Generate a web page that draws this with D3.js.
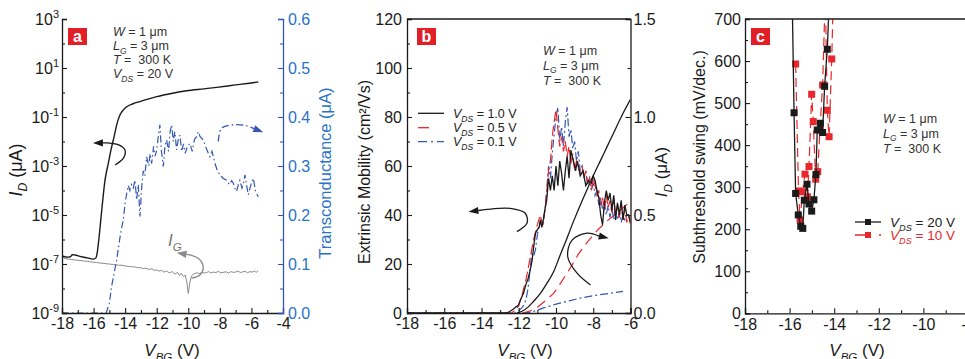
<!DOCTYPE html>
<html><head><meta charset="utf-8">
<script src="https://cdn.jsdelivr.net/npm/d3@7"></script>
<style>body{margin:0;background:#fff} svg{display:block} text{font-family:"Liberation Sans",Arial,sans-serif}</style>
</head><body><svg id="c" width="965" height="359"></svg>
<script>
// ---------------- DATA ----------------
// Panel a: drain current I_D (log10 of uA) vs V_BG
const aID = [[-18,-6.67],[-17.6,-6.72],[-17.45,-6.7],[-17.35,-6.62],[-17.2,-6.63],[-16.8,-6.7],[-16.4,-6.75],[-16.0,-6.8],[-15.85,-6.75],[-15.75,-6.45],[-15.65,-5.9],[-15.55,-5.25],[-15.45,-4.6],[-15.28,-3.6],[-15.07,-2.9],[-14.9,-2.35],[-14.7,-1.8],[-14.54,-1.33],[-14.33,-0.92],[-14.1,-0.7],[-13.9,-0.58],[-13.5,-0.46],[-13.06,-0.37],[-12.5,-0.26],[-12.0,-0.17],[-11.0,-0.03],[-10.1,0.07],[-9.0,0.15],[-8.2,0.21],[-7.0,0.31],[-6.0,0.39],[-5.57,0.43]];
// Panel a: gate current I_G (log10 of uA)
const aIG = [[-18,-6.72],[-17.8,-6.78],[-17.6,-6.8],[-17.4,-6.82],[-17.2,-6.83],[-17.0,-6.85],[-16.8,-6.86],[-16.6,-6.88],[-16.4,-6.89],[-16.2,-6.91],[-16.0,-6.93],[-15.8,-6.94],[-15.6,-6.96],[-15.4,-6.97],[-15.2,-6.99],[-15.0,-7.0],[-14.8,-7.02],[-14.6,-7.03],[-14.4,-7.05],[-14.2,-7.05],[-14.0,-7.08],[-13.8,-7.1],[-13.6,-7.11],[-13.4,-7.12],[-13.2,-7.15],[-13.0,-7.15],[-12.85,-7.19],[-12.7,-7.17],[-12.5,-7.22],[-12.3,-7.2],[-12.15,-7.26],[-12.0,-7.24],[-11.85,-7.29],[-11.7,-7.26],[-11.55,-7.33],[-11.4,-7.28],[-11.2,-7.36],[-11.0,-7.31],[-10.85,-7.42],[-10.7,-7.34],[-10.55,-7.47],[-10.45,-7.38],[-10.3,-7.52],[-10.2,-7.45],[-10.1,-7.7],[-10.0,-8.2],[-9.9,-7.75],[-9.8,-7.5],[-9.7,-7.42],[-9.55,-7.38],[-9.4,-7.36],[-9.3,-7.4],[-9.15,-7.34],[-9.0,-7.37],[-8.85,-7.35],[-8.7,-7.31],[-8.6,-7.36],[-8.4,-7.33],[-8.25,-7.35],[-8.1,-7.3],[-7.95,-7.36],[-7.8,-7.34],[-7.6,-7.32],[-7.45,-7.37],[-7.3,-7.31],[-7.15,-7.34],[-7.0,-7.33],[-6.85,-7.29],[-6.7,-7.35],[-6.55,-7.32],[-6.4,-7.3],[-6.25,-7.36],[-6.1,-7.31],[-5.95,-7.33],[-5.8,-7.29],[-5.7,-7.34],[-5.57,-7.28]];
// Panel a: transconductance (uA)
const aGM = [[-18,0],[-15.2,0],[-15.0,0.02],[-14.86,0.054],[-14.54,0.108],[-14.3,0.16],[-14.12,0.19],[-14.0,0.225],[-13.9,0.244],[-13.8,0.26],[-13.7,0.25],[-13.59,0.262],[-13.48,0.255],[-13.38,0.271],[-13.27,0.231],[-13.17,0.262],[-13.06,0.197],[-12.95,0.258],[-12.85,0.29],[-12.75,0.28],[-12.64,0.319],[-12.5,0.3],[-12.42,0.325],[-12.32,0.305],[-12.2,0.34],[-12.1,0.32],[-12.0,0.333],[-11.9,0.36],[-11.8,0.384],[-11.7,0.33],[-11.58,0.299],[-11.48,0.34],[-11.37,0.353],[-11.25,0.33],[-11.15,0.37],[-11.05,0.384],[-10.95,0.35],[-10.85,0.37],[-10.74,0.333],[-10.63,0.355],[-10.53,0.363],[-10.42,0.33],[-10.3,0.345],[-10.2,0.326],[-10.05,0.34],[-9.9,0.346],[-9.75,0.33],[-9.6,0.355],[-9.47,0.36],[-9.37,0.37],[-9.25,0.36],[-9.05,0.353],[-8.85,0.335],[-8.63,0.319],[-8.5,0.33],[-8.31,0.305],[-8.15,0.29],[-8.0,0.282],[-7.8,0.275],[-7.57,0.271],[-7.4,0.262],[-7.25,0.27],[-7.15,0.265],[-7.05,0.255],[-6.94,0.248],[-6.83,0.262],[-6.73,0.271],[-6.6,0.255],[-6.5,0.265],[-6.41,0.282],[-6.3,0.26],[-6.2,0.241],[-6.05,0.26],[-5.88,0.275],[-5.75,0.25],[-5.57,0.237]];
// Panel b: extrinsic mobility (cm2/Vs) for three V_DS
const bMob10 = [[-18,0],[-12.7,0],[-12.5,0.5],[-12.3,1.5],[-12.15,2.5],[-12.03,3],[-11.9,5.5],[-11.75,8],[-11.6,12],[-11.5,14],[-11.4,17],[-11.28,21.6],[-11.2,27],[-11.1,32.6],[-11.0,34],[-10.9,35],[-10.84,38],[-10.76,35],[-10.68,38],[-10.6,42],[-10.5,46],[-10.4,55],[-10.3,50],[-10.2,56],[-10.1,50],[-10.0,60],[-9.9,52],[-9.8,62],[-9.7,57],[-9.6,50],[-9.5,58],[-9.4,64],[-9.3,55],[-9.2,66.5],[-9.1,63],[-9.0,60],[-8.95,58],[-8.85,62],[-8.7,56],[-8.55,58],[-8.4,52],[-8.25,54],[-8.1,53],[-8.0,56],[-7.9,54],[-7.8,50],[-7.7,47],[-7.6,40],[-7.5,36],[-7.4,45],[-7.3,50],[-7.2,46],[-7.1,49],[-7.0,42],[-6.9,48],[-6.8,38],[-6.7,45],[-6.6,40],[-6.5,46],[-6.4,38],[-6.3,44],[-6.2,40],[-6.1,40],[-6.0,37]];
const bMob05 = [[-18,0],[-12.4,0],[-12.2,1],[-12.0,3],[-11.8,8],[-11.6,14],[-11.4,22],[-11.2,30],[-11.0,36],[-10.85,40],[-10.7,36],[-10.55,45],[-10.4,58],[-10.3,62],[-10.2,72],[-10.1,78],[-10.0,83],[-9.9,75],[-9.8,68],[-9.7,72],[-9.6,66],[-9.5,70],[-9.4,64],[-9.3,68],[-9.2,61],[-9.1,65],[-9.0,58],[-8.9,62],[-8.8,60],[-8.7,57],[-8.6,60],[-8.5,55],[-8.4,58],[-8.3,53],[-8.2,56],[-8.1,50],[-8.0,55],[-7.9,52],[-7.8,48],[-7.7,50],[-7.6,44],[-7.5,47],[-7.4,42],[-7.3,48],[-7.2,43],[-7.1,46],[-7.0,41],[-6.9,47],[-6.8,40],[-6.7,44],[-6.6,39],[-6.5,45],[-6.4,38],[-6.3,43],[-6.2,37],[-6.1,40],[-6.0,36]];
const bMob01 = [[-18,0],[-12.2,0],[-12.0,1],[-11.85,2],[-11.7,3.5],[-11.6,6],[-11.5,10],[-11.4,17],[-11.3,24],[-11.2,23],[-11.1,26],[-11.0,32],[-10.9,36],[-10.8,38],[-10.7,36],[-10.6,42],[-10.5,50],[-10.4,60],[-10.3,55],[-10.2,65],[-10.1,73],[-10.0,80],[-9.9,84],[-9.8,70],[-9.7,76],[-9.6,68],[-9.5,78],[-9.4,84],[-9.3,72],[-9.2,75],[-9.1,67],[-9.0,70],[-8.9,62],[-8.8,66],[-8.7,58],[-8.6,60],[-8.5,56],[-8.4,58],[-8.3,52],[-8.2,55],[-8.1,50],[-8.0,53],[-7.9,48],[-7.8,50],[-7.7,44],[-7.6,47],[-7.5,42],[-7.4,45],[-7.3,40],[-7.2,44],[-7.1,39],[-7.0,43],[-6.9,38],[-6.8,42],[-6.7,38],[-6.6,41],[-6.5,37],[-6.4,40],[-6.3,38],[-6.2,40]];
// Panel b: I_D (uA) for three V_DS
const bID10 = [[-12.1,0],[-11.8,0.01],[-11.5,0.03],[-11.2,0.06],[-10.84,0.1],[-10.5,0.15],[-10.13,0.21],[-9.8,0.29],[-9.5,0.36],[-9.05,0.47],[-8.7,0.55],[-8.33,0.63],[-8.0,0.7],[-7.6,0.78],[-7.25,0.85],[-6.9,0.92],[-6.5,1.0],[-6.0,1.09]];
const bID05 = [[-11.8,0],[-11.4,0.01],[-11.0,0.03],[-10.6,0.06],[-10.13,0.1],[-9.7,0.16],[-9.23,0.23],[-8.8,0.3],[-8.33,0.36],[-7.8,0.42],[-7.25,0.47],[-6.6,0.52],[-6.0,0.57]];
const bID01 = [[-11.8,0],[-11.3,0.005],[-10.7,0.025],[-10.0,0.045],[-9.3,0.062],[-8.7,0.076],[-8.0,0.088],[-7.3,0.098],[-6.4,0.11]];
// Panel c: subthreshold swing (mV/dec)
const cSS20 = [[-15.9,800],[-15.8,477],[-15.73,285],[-15.61,234],[-15.5,207],[-15.41,202],[-15.34,269],[-15.22,307],[-15.13,260],[-15.01,243],[-14.91,270],[-14.82,330],[-14.76,436],[-14.62,452],[-14.52,430],[-14.43,540],[-14.31,628],[-14.18,800]];
const cSS10 = [[-15.73,593],[-15.6,291],[-15.53,222],[-15.42,289],[-15.31,331],[-15.2,277],[-15.13,349],[-15.01,521],[-14.94,456],[-14.83,319],[-14.74,337],[-14.64,436],[-14.52,543],[-14.4,760],[-14.31,483],[-14.23,420],[-14.11,605],[-14.03,780]];
// Tick values
const aXTicks = [-18,-16,-14,-12,-10,-8,-6,-4];
const aLogTicks = [3,1,-1,-3,-5,-7,-9];
const aGTicks = [0,0.1,0.2,0.3,0.4,0.5,0.6];
const bXTicks = [-18,-16,-14,-12,-10,-8,-6];
const bYTicks = [0,20,40,60,80,100,120];
const bRTicks = [0,0.5,1.0,1.5];
const cXTicks = [-18,-16,-14,-12,-10,-8,-6,-4];
const cYTicks = [0,100,200,300,400,500,600,700];

// ---------------- DRAWING ----------------
const svg = d3.select("#c");
const BLK = "#1a1a1a", RED = "#e8262b", BLUE = "#3556b5", BLUET = "#2a72c8", GREY = "#8a8a8a";
const defs = svg.append("defs");
function clip(id, x0, y0, x1, y1){ defs.append("clipPath").attr("id",id).append("rect").attr("x",x0).attr("y",y0).attr("width",x1-x0).attr("height",y1-y0); return "url(#"+id+")"; }

function rich(g, x, y, parts, size, color, anchor, rot){
  const t = g.append("text").attr("x",x).attr("y",y).attr("font-size",size).attr("fill",color||BLK).attr("text-anchor",anchor||"start");
  if(rot) t.attr("transform",`rotate(-90,${x},${y})`);
  let shift = 0;
  parts.forEach(p=>{
    const s = t.append("tspan").text(p.t);
    if(p.i) s.attr("font-style","italic");
    let target = p.sub ? size*0.3 : (p.sup ? -size*0.4 : 0);
    if(target !== shift){ s.attr("dy", target-shift); shift = target; }
    if(p.sub || p.sup) s.attr("font-size", size*0.68);
  });
  return t;
}
function arrow(g, pts, x, y, color, dash, L, W){
  L = L||10; W = W||3.6;
  const p = pts.map(d=>[x(d[0]), y(d[1])]);
  const n = p.length, tip = p[n-1], prev = p[n-2];
  const a = Math.atan2(tip[1]-prev[1], tip[0]-prev[0]);
  const base = [tip[0]-L*Math.cos(a), tip[1]-L*Math.sin(a)];
  const pp = p.slice(0,n-1).concat([base]);
  g.append("path").attr("d", d3.line().curve(d3.curveCatmullRom)(pp)).attr("fill","none").attr("stroke",color).attr("stroke-width",1.3).attr("stroke-dasharray",dash||null);
  g.append("path").attr("d",`M${tip[0]},${tip[1]}L${base[0]-W*Math.sin(a)},${base[1]+W*Math.cos(a)}L${base[0]+W*Math.sin(a)},${base[1]-W*Math.cos(a)}Z`).attr("fill",color);
}
function styleAxis(sel, color){
  sel.selectAll("path.domain").attr("stroke",color).attr("stroke-width",1.3);
  sel.selectAll(".tick line").attr("stroke",color).attr("stroke-width",1.1);
  sel.selectAll(".tick text").attr("fill",color).attr("font-size",16).attr("font-family",'"Liberation Sans",Arial,sans-serif');
}
function minorTicks(g, axisFn, scale, vals, transform, color, size){
  const s = g.append("g").attr("transform",transform).call(axisFn(scale).tickValues(vals).tickSize(size).tickFormat(""));
  s.select("path.domain").remove();
  s.selectAll(".tick line").attr("stroke",color).attr("stroke-width",1.1);
}
function labelBox(g, x, y, ch){
  g.append("rect").attr("x",x).attr("y",y).attr("width",19).attr("height",17).attr("fill","#e21f26");
  g.append("text").attr("x",x+9.5).attr("y",y+13.5).attr("text-anchor","middle").attr("font-size",16).attr("font-weight","bold").attr("fill","#fff").text(ch);
}
function vbg(g, cx){
  rich(g, cx, 356, [{t:"V",i:true},{t:"BG",i:true,sub:true},{t:" (V)"}], 17, BLK, "middle");
}
function info(g, x, y0, dy, extra){
  const lines = [
    [{t:"W",i:true},{t:" = 1 \u03bcm"}],
    [{t:"L",i:true},{t:"G",i:true,sub:true},{t:" = 3 \u03bcm"}],
    [{t:"T",i:true},{t:" =\u00a0 300 K"}]
  ];
  if(extra) lines.push(extra);
  lines.forEach((l,i)=>rich(g, x, y0+i*dy, l, 12.5, "#333"));
}
const fmt = d=>String(d);

// ===== Panel a =====
const ga = svg.append("g");
const xa = d3.scaleLinear([-18,-4],[62,283]);
const ya = d3.scaleLog([1e-9,1e3],[313,19]);
const yg = d3.scaleLinear([0,0.6],[313,19]);
const clipA = clip("ca", 62, 19, 283, 313);
ga.append("path").attr("clip-path",clipA).attr("d", d3.line().x(d=>xa(d[0])).y(d=>ya(Math.pow(10,d[1])))(aIG)).attr("fill","none").attr("stroke",GREY).attr("stroke-width",1);
ga.append("path").attr("clip-path",clipA).attr("d", d3.line().x(d=>xa(d[0])).y(d=>yg(d[1])).curve(d3.curveLinear)(aGM)).attr("fill","none").attr("stroke",BLUE).attr("stroke-width",1.2).attr("stroke-dasharray","7,3,1.5,3");
ga.append("path").attr("clip-path",clipA).attr("d", d3.line().x(d=>xa(d[0])).y(d=>ya(Math.pow(10,d[1]))).curve(d3.curveMonotoneX)(aID)).attr("fill","none").attr("stroke",BLK).attr("stroke-width",1.4);
const axA = ga.append("g").attr("transform","translate(0,313)").call(d3.axisBottom(xa).tickValues(aXTicks).tickSize(-5).tickPadding(5).tickFormat(fmt));
styleAxis(axA, BLK);
minorTicks(ga, d3.axisBottom, xa, [-17,-15,-13,-11,-9,-7,-5], "translate(0,313)", BLK, -3);
const ayA = ga.append("g").attr("transform","translate(62,0)").call(d3.axisLeft(ya).tickValues(aLogTicks.map(e=>Math.pow(10,e))).tickSize(-5).tickFormat(""));
styleAxis(ayA, BLK);
minorTicks(ga, d3.axisLeft, ya, [2,0,-2,-4,-6,-8].map(e=>Math.pow(10,e)), "translate(62,0)", BLK, -3);
aLogTicks.forEach(e=>{
  const t = ga.append("text").attr("x",59).attr("y",ya(Math.pow(10,e))+6).attr("font-size",16).attr("text-anchor","end").attr("fill",BLK);
  t.append("tspan").text("10");
  t.append("tspan").attr("dy",-7).attr("font-size",11).text(String(e));
});
const ayG = ga.append("g").attr("transform","translate(283,0)").call(d3.axisRight(yg).tickValues(aGTicks).tickSize(-5).tickPadding(5).tickFormat(d3.format(".1f")));
styleAxis(ayG, BLUE);
ayG.selectAll(".tick text").attr("fill",BLUET);
minorTicks(ga, d3.axisRight, yg, [0.05,0.15,0.25,0.35,0.45,0.55], "translate(283,0)", BLUE, -3);
arrow(ga, [[-14.64,-2.96],[-14.1,-2.67],[-14.01,-2.35],[-14.4,-2.14],[-15.09,-2.06],[-16.04,-2.06]], xa, d=>ya(Math.pow(10,d)), BLK);
arrow(ga, [[-9.79,-7.58],[-9.26,-7.45],[-9.05,-7.11],[-9.37,-6.77],[-9.89,-6.63],[-10.74,-6.54]], xa, d=>ya(Math.pow(10,d)), GREY);
arrow(ga, [[-8.1,0.35],[-7.89,0.377],[-7.15,0.384],[-6.3,0.382],[-5.25,0.369]], xa, yg, BLUE, "7,3,1.5,3");
rich(ga, 168, 246, [{t:"I",i:true},{t:"G",i:true,sub:true}], 17, "#777");
labelBox(ga, 68, 28, "a");
info(ga, 113, 36, 14, [{t:"V",i:true},{t:"DS",i:true,sub:true},{t:" = 20 V"}]);
vbg(ga, 172);
rich(ga, 22, 170, [{t:"I",i:true},{t:"D",i:true,sub:true},{t:" (\u03bcA)"}], 18, BLK, "middle", true);
rich(ga, 331, 173, [{t:"Transconductance (\u03bcA)"}], 16.5, BLUET, "middle", true);

// ===== Panel b =====
const gb = svg.append("g");
const xb = d3.scaleLinear([-18,-6],[407,630.5]);
const yb = d3.scaleLinear([0,120],[313,19]);
const yr = d3.scaleLinear([0,1.5],[313,19]);
const clipB = clip("cb", 407, 19, 630.5, 313);
const lb = (ys)=>d3.line().x(d=>xb(d[0])).y(d=>ys(d[1]));
gb.append("path").attr("clip-path",clipB).attr("d",lb(yr)(bID01)).attr("fill","none").attr("stroke",BLUE).attr("stroke-width",1.2).attr("stroke-dasharray","8,3,2,3");
gb.append("path").attr("clip-path",clipB).attr("d",lb(yr)(bID05)).attr("fill","none").attr("stroke",RED).attr("stroke-width",1.2).attr("stroke-dasharray","10,6");
gb.append("path").attr("clip-path",clipB).attr("d",lb(yr).curve(d3.curveMonotoneX)(bID10)).attr("fill","none").attr("stroke",BLK).attr("stroke-width",1.3);
gb.append("path").attr("clip-path",clipB).attr("d",lb(yb)(bMob01)).attr("fill","none").attr("stroke",BLUE).attr("stroke-width",1.2).attr("stroke-dasharray","8,3,2,3");
gb.append("path").attr("clip-path",clipB).attr("d",lb(yb)(bMob05)).attr("fill","none").attr("stroke",RED).attr("stroke-width",1.2).attr("stroke-dasharray","10,4");
gb.append("path").attr("clip-path",clipB).attr("d",lb(yb)(bMob10)).attr("fill","none").attr("stroke",BLK).attr("stroke-width",1.3);
const axB = gb.append("g").attr("transform","translate(0,313)").call(d3.axisBottom(xb).tickValues(bXTicks).tickSize(-5).tickPadding(5).tickFormat(fmt));
styleAxis(axB, BLK);
minorTicks(gb, d3.axisBottom, xb, [-17,-15,-13,-11,-9,-7], "translate(0,313)", BLK, -3);
const ayB = gb.append("g").attr("transform","translate(407,0)").call(d3.axisLeft(yb).tickValues(bYTicks).tickSize(-5).tickPadding(5).tickFormat(fmt));
styleAxis(ayB, BLK);
minorTicks(gb, d3.axisLeft, yb, [10,30,50,70,90,110], "translate(407,0)", BLK, -3);
const ayR = gb.append("g").attr("transform","translate(630.5,0)").call(d3.axisRight(yr).tickValues(bRTicks).tickSize(-5).tickPadding(3).tickFormat(d3.format(".1f")));
styleAxis(ayR, BLK);
minorTicks(gb, d3.axisRight, yr, [0.25,0.75,1.25], "translate(630.5,0)", BLK, -3);
gb.append("line").attr("x1",407).attr("x2",630.5).attr("y1",19).attr("y2",19).attr("stroke",BLK).attr("stroke-width",1.3);
arrow(gb, [[-12.1,33.2],[-11.56,36.6],[-11.65,40.7],[-12.46,42.7],[-13.71,42.3],[-14.7,41.3]], xb, yb, BLK);
arrow(gb, [[-8.15,0.143],[-8.87,0.203],[-9.37,0.287],[-9.14,0.372],[-8.33,0.407],[-7.17,0.381]], xb, yr, BLK);
labelBox(gb, 417, 28, "b");
info(gb, 543, 54.5, 15);
const legB = [[BLK,null,"1.0 V",113.3],[RED,"11,22,2,30","0.5 V",127.7],[BLUE,"9,4,2,4","0.1 V",141.7]];
legB.forEach(l=>{
  gb.append("line").attr("x1",418).attr("x2",444).attr("y1",l[3]).attr("y2",l[3]).attr("stroke",l[0]).attr("stroke-width",1.3).attr("stroke-dasharray",l[1]);
  rich(gb, 453, l[3]+4.5, [{t:"V",i:true},{t:"DS",i:true,sub:true},{t:" = "+l[2]}], 12.5, "#222");
});
vbg(gb, 525);
rich(gb, 370, 172, [{t:"Extrinsic Mobility (cm\u00b2/Vs)"}], 16, BLK, "middle", true);
rich(gb, 667, 172, [{t:"I",i:true},{t:"D",i:true,sub:true},{t:" (\u03bcA)"}], 17, BLK, "middle", true);

// ===== Panel c =====
const gc = svg.append("g");
const xc = d3.scaleLinear([-18,-4],[745,1057.2]);
const yc = d3.scaleLinear([0,700],[313.3,19]);
const clipC = clip("cc", 745, 19, 1057, 313.3);
const lc = d3.line().x(d=>xc(d[0])).y(d=>yc(d[1]));
gc.append("path").attr("clip-path",clipC).attr("d",lc(cSS10)).attr("fill","none").attr("stroke",RED).attr("stroke-width",1.2).attr("stroke-dasharray","9,5");
gc.selectAll("rect.r10").data(cSS10.filter(d=>d[1]<=700)).join("rect").attr("class","r10").attr("x",d=>xc(d[0])-3.5).attr("y",d=>yc(d[1])-3.5).attr("width",7).attr("height",7).attr("fill",RED);
gc.append("path").attr("clip-path",clipC).attr("d",lc(cSS20)).attr("fill","none").attr("stroke",BLK).attr("stroke-width",1.3);
gc.selectAll("rect.r20").data(cSS20.filter(d=>d[1]<=700)).join("rect").attr("class","r20").attr("x",d=>xc(d[0])-3.5).attr("y",d=>yc(d[1])-3.5).attr("width",7).attr("height",7).attr("fill",BLK);
const axC = gc.append("g").attr("transform","translate(0,313.3)").call(d3.axisBottom(xc).tickValues(cXTicks).tickSize(-5).tickPadding(5).tickFormat(fmt));
styleAxis(axC, BLK);
minorTicks(gc, d3.axisBottom, xc, [-17,-15,-13,-11,-9,-7,-5], "translate(0,313.3)", BLK, -3);
const ayC = gc.append("g").attr("transform","translate(745,0)").call(d3.axisLeft(yc).tickValues(cYTicks).tickSize(-5).tickPadding(4).tickFormat(fmt));
styleAxis(ayC, BLK);
minorTicks(gc, d3.axisLeft, yc, [50,150,250,350,450,550,650], "translate(745,0)", BLK, -3);
gc.append("line").attr("x1",745).attr("x2",965).attr("y1",19).attr("y2",19).attr("stroke",BLK).attr("stroke-width",1.3);
labelBox(gc, 751, 28, "c");
info(gc, 883, 122.5, 15);
gc.append("line").attr("x1",855).attr("x2",881).attr("y1",222).attr("y2",222).attr("stroke",BLK).attr("stroke-width",1.3);
gc.append("rect").attr("x",865).attr("y",219).attr("width",6).attr("height",6).attr("fill",BLK);
gc.append("line").attr("x1",855).attr("x2",881).attr("y1",235).attr("y2",235).attr("stroke",RED).attr("stroke-width",1.3).attr("stroke-dasharray","12,12,2,10");
gc.append("rect").attr("x",865).attr("y",232).attr("width",6).attr("height",6).attr("fill",RED);
rich(gc, 890, 226.5, [{t:"V",i:true},{t:"DS",i:true,sub:true},{t:" = 20 V"}], 13.5, "#222");
rich(gc, 890, 239.5, [{t:"V",i:true},{t:"DS",i:true,sub:true},{t:" = 10 V"}], 13.5, RED);
vbg(gc, 857);
rich(gc, 705, 157, [{t:"Subthreshold swing (mV/dec.)"}], 16, BLK, "middle", true);
</script></body></html>
